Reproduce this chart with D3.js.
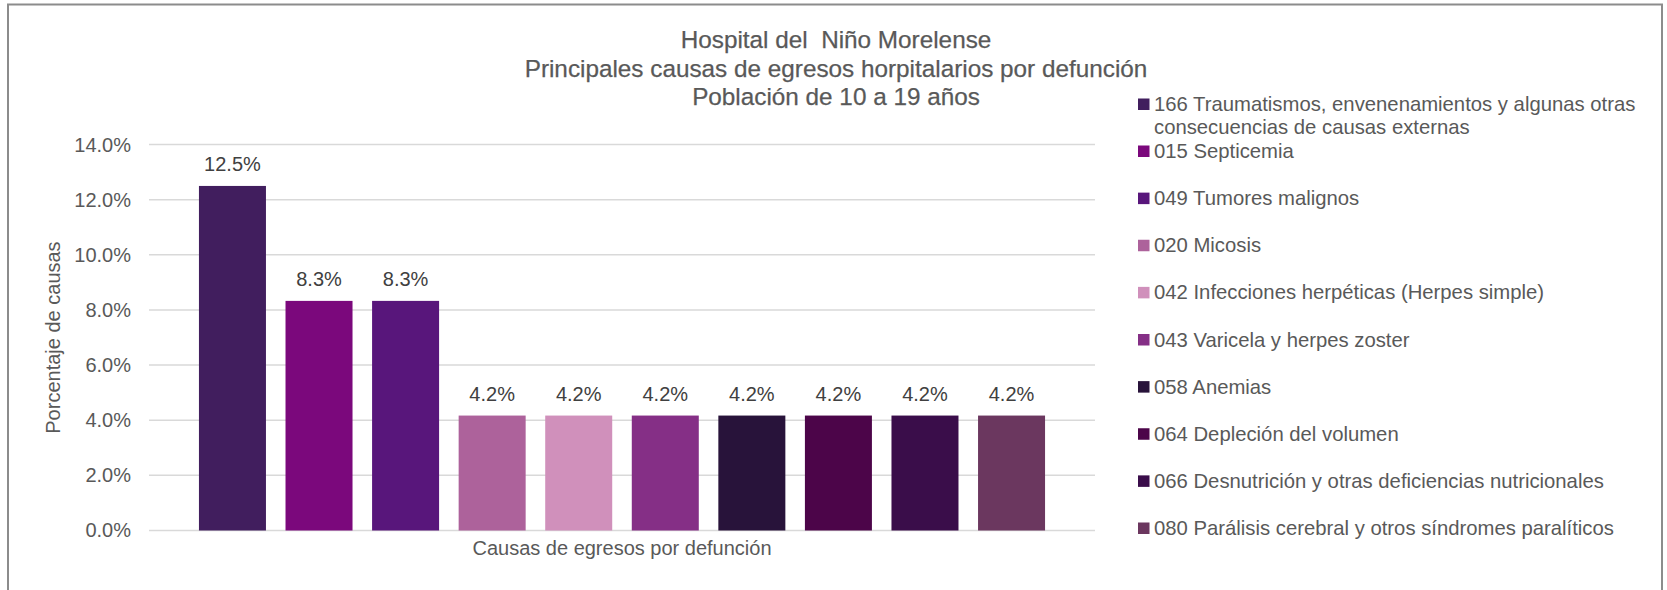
<!DOCTYPE html>
<html>
<head>
<meta charset="utf-8">
<script src="https://cdn.jsdelivr.net/npm/d3@7"></script>
<style>
  html, body { margin: 0; padding: 0; background: #ffffff; }
  svg { display: block; font-family: "Liberation Sans", Arial, sans-serif; }
  text { white-space: pre; }
</style>
</head>
<body>
<svg id="chart" width="1667" height="590"></svg>
<script>
// ---- data ----
const titleLines = ["Hospital del  Niño Morelense", "Principales causas de egresos horpitalarios por defunción", "Población de 10 a 19 años"];
const categories = [
  "166 Traumatismos, envenenamientos y algunas otras consecuencias de causas externas",
  "015 Septicemia",
  "049 Tumores malignos",
  "020 Micosis",
  "042 Infecciones herpéticas (Herpes simple)",
  "043 Varicela y herpes zoster",
  "058 Anemias",
  "064 Depleción del volumen",
  "066 Desnutrición y otras deficiencias nutricionales",
  "080 Parálisis cerebral y otros síndromes paralíticos"
];
const legendLines = [
  ["166 Traumatismos, envenenamientos y algunas otras", "consecuencias de causas externas"],
  ["015 Septicemia"],
  ["049 Tumores malignos"],
  ["020 Micosis"],
  ["042 Infecciones herpéticas (Herpes simple)"],
  ["043 Varicela y herpes zoster"],
  ["058 Anemias"],
  ["064 Depleción del volumen"],
  ["066 Desnutrición y otras deficiencias nutricionales"],
  ["080 Parálisis cerebral y otros síndromes paralíticos"]
];
const values = [12.5, 8.33, 8.33, 4.17, 4.17, 4.17, 4.17, 4.17, 4.17, 4.17];
const colors = ["#411e5e", "#7b087c", "#58167b", "#ad629b", "#d090bb", "#852f86", "#28133a", "#4c0549", "#3a0d4a", "#6b375f"];
const yTicks = [0, 2, 4, 6, 8, 10, 12, 14];
const yTitle = "Porcentaje de causas";
const xTitle = "Causas de egresos por defunción";

// ---- layout ----
const svg = d3.select("#chart");
const textColor = "#595959";
const plot = { left: 149, right: 1095, top: 144.6, bottom: 530.5 };

// frame
svg.append("rect")
  .attr("x", 8).attr("y", 4.5)
  .attr("width", 1654).attr("height", 620)
  .attr("fill", "#fff").attr("stroke", "#8c8c8c").attr("stroke-width", 2);

const x = d3.scaleBand()
  .domain(categories)
  .range([plot.left, plot.right])
  .paddingInner(0.226)
  .paddingOuter(0.577);

const y = d3.scaleLinear().domain([0, 14]).range([plot.bottom, plot.top]);

// gridlines
svg.append("g")
  .selectAll("line")
  .data(yTicks)
  .join("line")
  .attr("x1", plot.left).attr("x2", plot.right)
  .attr("y1", d => y(d)).attr("y2", d => y(d))
  .attr("stroke", "#d9d9d9").attr("stroke-width", 1.5);

// y axis
const yAxis = d3.axisLeft(y)
  .tickValues(yTicks)
  .tickSize(0)
  .tickPadding(0)
  .tickFormat(d => d.toFixed(1) + "%");
const gy = svg.append("g")
  .attr("transform", `translate(${131},0)`)
  .call(yAxis);
gy.select(".domain").remove();
gy.selectAll("text")
  .attr("fill", textColor)
  .attr("font-size", 20)
  .attr("font-family", "Liberation Sans, Arial, sans-serif");

// bars
svg.append("g")
  .selectAll("rect")
  .data(values)
  .join("rect")
  .attr("x", (d, i) => x(categories[i]))
  .attr("y", d => y(d))
  .attr("width", x.bandwidth())
  .attr("height", d => y(0) - y(d))
  .attr("fill", (d, i) => colors[i]);

// data labels
svg.append("g")
  .selectAll("text")
  .data(values)
  .join("text")
  .attr("x", (d, i) => x(categories[i]) + x.bandwidth() / 2)
  .attr("y", d => y(d) - 15)
  .attr("text-anchor", "middle")
  .attr("fill", "#404040")
  .attr("font-size", 20)
  .text(d => d.toFixed(1) + "%");

// title
svg.append("g")
  .selectAll("text")
  .data(titleLines)
  .join("text")
  .attr("x", 836)
  .attr("y", (d, i) => 48 + i * 28.5)
  .attr("text-anchor", "middle")
  .attr("fill", textColor)
  .attr("font-size", 24.3)
  .attr("stroke", textColor)
  .attr("stroke-width", 0.25)
  .text(d => d);

// axis titles
svg.append("text")
  .attr("x", (plot.left + plot.right) / 2)
  .attr("y", 555)
  .attr("text-anchor", "middle")
  .attr("fill", textColor)
  .attr("font-size", 20)
  .text(xTitle);

svg.append("text")
  .attr("transform", `translate(60, ${(plot.top + plot.bottom) / 2}) rotate(-90)`)
  .attr("text-anchor", "middle")
  .attr("fill", textColor)
  .attr("font-size", 20)
  .text(yTitle);

// legend
const legendY = (i) => i === 0 ? 104 : 151 + (i - 1) * 47.125;
const lg = svg.append("g")
  .selectAll("g")
  .data(categories)
  .join("g")
  .attr("transform", (d, i) => `translate(1138, ${legendY(i)})`);
lg.append("rect")
  .attr("x", 0).attr("y", -5.5)
  .attr("width", 11.5).attr("height", 11.5)
  .attr("fill", (d, i) => colors[i]);
lg.append("text")
  .attr("x", 16)
  .attr("fill", textColor)
  .attr("font-size", 20.3)
  .each(function(d, i) {
    d3.select(this).selectAll("tspan")
      .data(legendLines[i])
      .join("tspan")
      .attr("x", 16)
      .attr("y", (t, j) => 7 + j * 22.5)
      .text(t => t);
  });
</script>
</body>
</html>
